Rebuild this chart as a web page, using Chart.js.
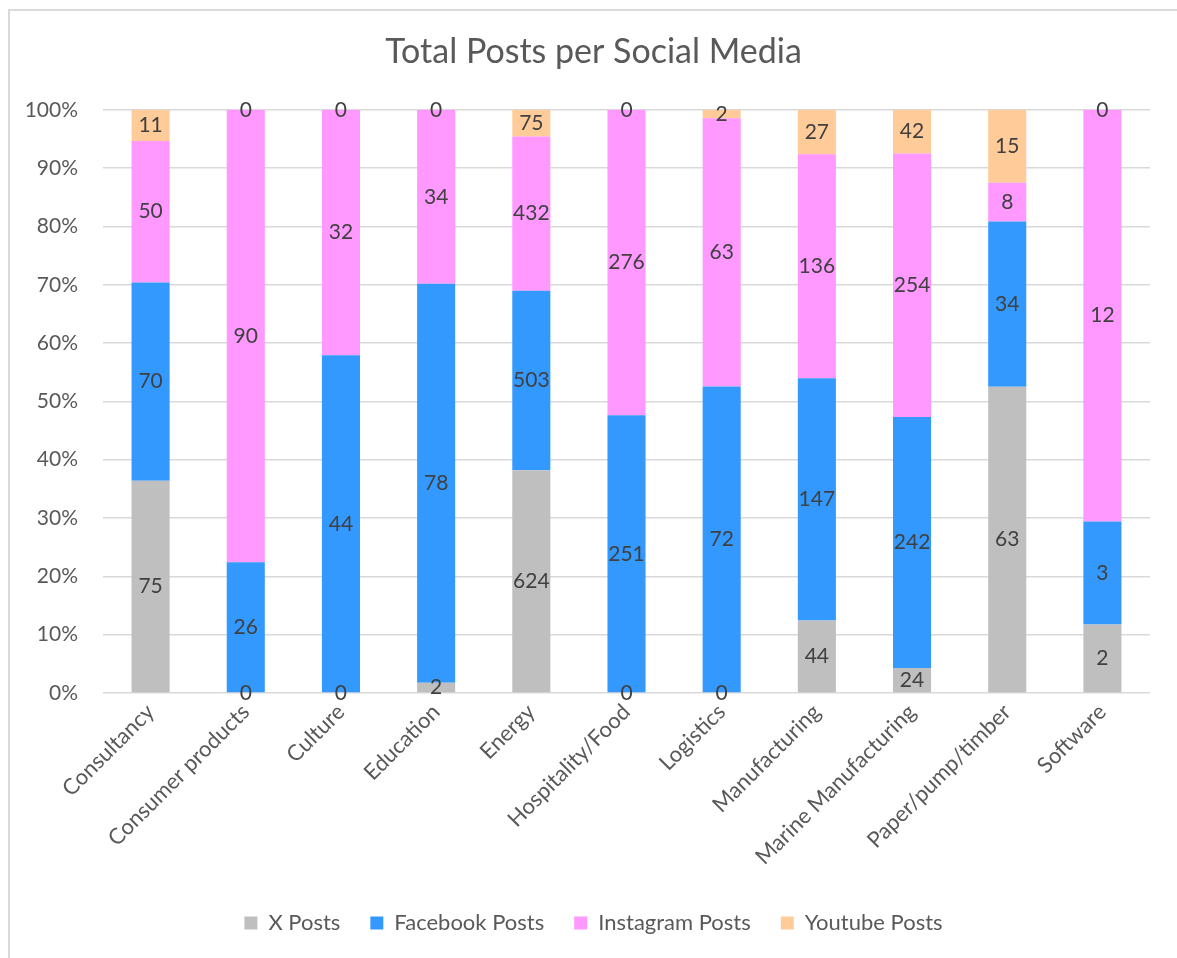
<!DOCTYPE html>
<html>
<head>
<meta charset="utf-8">
<title>Total Posts per Social Media</title>
<script src="https://cdn.jsdelivr.net/npm/chart.js@4.4.1/dist/chart.umd.min.js"></script>
<style>
  body { margin: 0; background: #fff; }
  #wrap { width: 1177px; height: 958px; }
</style>
</head>
<body>
<div id="wrap"><canvas id="postsChart" width="1177" height="958"></canvas></div>
<script>
const categories = ["Consultancy", "Consumer products", "Culture", "Education", "Energy",
  "Hospitality/Food", "Logistics", "Manufacturing", "Marine Manufacturing", "Paper/pump/timber", "Software"];
const xPosts = [75, 0, 0, 2, 624, 0, 0, 44, 24, 63, 2];
const facebookPosts = [70, 26, 44, 78, 503, 251, 72, 147, 242, 34, 3];
const instagramPosts = [50, 90, 32, 34, 432, 276, 63, 136, 254, 8, 12];
const youtubePosts = [11, 0, 0, 0, 75, 0, 2, 27, 42, 15, 0];
const yTicks = [0, 10, 20, 30, 40, 50, 60, 70, 80, 90, 100];

const FONT = "Lato, 'Open Sans', sans-serif";
const TEXT = "#595959";

// share of each category total, for the 100% stack
const totals = categories.map((c, i) => xPosts[i] + facebookPosts[i] + instagramPosts[i] + youtubePosts[i]);
const pct = arr => arr.map((v, i) => totals[i] ? v / totals[i] * 100 : 0);

// raw counts written in the middle of every segment
const segmentLabels = {
  id: "segmentLabels",
  afterDatasetsDraw(chart) {
    const ctx = chart.ctx;
    ctx.save();
    ctx.font = "21px " + FONT;
    ctx.fillStyle = "#404040";
    ctx.textAlign = "center";
    ctx.textBaseline = "middle";
    chart.data.datasets.forEach((ds, di) => {
      chart.getDatasetMeta(di).data.forEach((bar, i) => {
        ctx.fillText(String(ds.raw[i]), bar.x, (bar.y + bar.base) / 2);
      });
    });
    ctx.restore();
  }
};

// light frame round the chart
const frame = {
  id: "frame",
  beforeDraw(chart) {
    const ctx = chart.ctx;
    ctx.save();
    ctx.strokeStyle = "#d9d9d9";
    ctx.lineWidth = 2;
    ctx.beginPath();
    ctx.moveTo(9, 958);
    ctx.lineTo(9, 10);
    ctx.lineTo(1177, 10);
    ctx.stroke();
    ctx.restore();
  }
};

function makeSet(label, raw, color) {
  return {
    label,
    raw,
    data: pct(raw),
    backgroundColor: color,
    barPercentage: 0.4,
    categoryPercentage: 1.0
  };
}

new Chart(document.getElementById("postsChart").getContext("2d"), {
  type: "bar",
  data: {
    labels: categories,
    datasets: [
      makeSet("X Posts", xPosts, "#bfbfbf"),
      makeSet("Facebook Posts", facebookPosts, "#3399ff"),
      makeSet("Instagram Posts", instagramPosts, "#ff99ff"),
      makeSet("Youtube Posts", youtubePosts, "#ffcc99")
    ]
  },
  options: {
    responsive: false,
    animation: false,
    layout: { padding: { left: 10, right: 0, top: 0, bottom: 14 } },
    plugins: {
      title: {
        display: true,
        text: "Total Posts per Social Media",
        color: TEXT,
        font: { family: FONT, size: 34, weight: "normal" },
        padding: { top: 32, bottom: 37 }
      },
      legend: {
        position: "bottom",
        labels: {
          color: TEXT,
          font: { family: FONT, size: 22 },
          boxWidth: 13,
          boxHeight: 13,
          padding: 30
        }
      },
      tooltip: { enabled: false }
    },
    scales: {
      x: {
        stacked: true,
        grid: { display: false, drawTicks: false },
        border: { display: false },
        ticks: {
          color: TEXT,
          font: { family: FONT, size: 22 },
          minRotation: 45,
          maxRotation: 45,
          padding: 6
        },
        afterFit(scale) { scale.height = 189; }
      },
      y: {
        stacked: true,
        min: 0,
        max: 100,
        grid: { color: "#d9d9d9", lineWidth: 1.5, drawTicks: false },
        border: { display: false },
        afterBuildTicks(scale) { scale.ticks = yTicks.map(v => ({ value: v })); },
        ticks: {
          color: TEXT,
          font: { family: FONT, size: 21 },
          padding: 25,
          callback: v => v + "%"
        },
        afterFit(scale) { scale.width = 93; }
      },
      // empty right-hand gap so the plot stops short of the edge
      gap: {
        position: "right",
        display: true,
        grid: { display: false, drawTicks: false },
        border: { display: false },
        ticks: { display: false },
        afterFit(scale) { scale.width = 27; }
      }
    }
  },
  plugins: [frame, segmentLabels]
});
</script>
</body>
</html>
